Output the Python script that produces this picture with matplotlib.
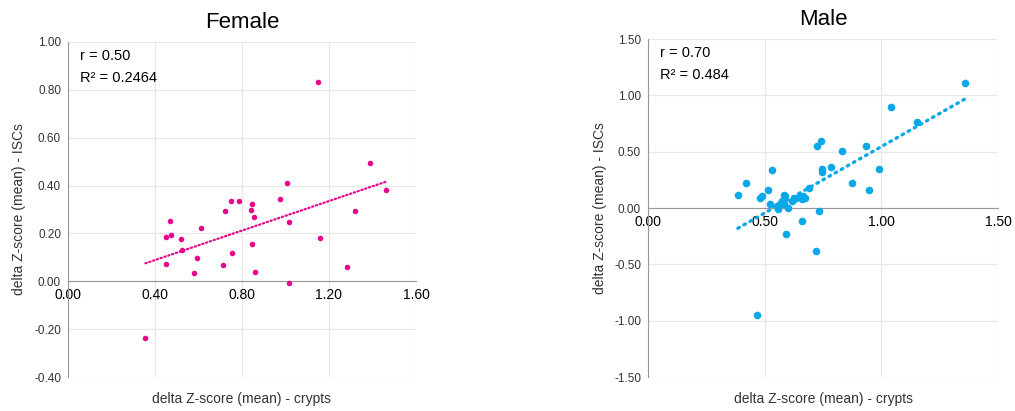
import numpy as np
import matplotlib
matplotlib.use("Agg")
import matplotlib.pyplot as plt

plt.rcParams['font.family'] = ['Liberation Sans', 'DejaVu Sans']

# ---- data ----
female_x = [1.151, 1.390, 1.461, 1.008, 0.976, 1.318, 1.018, 1.160, 1.281, 1.018,
            0.748, 0.785, 0.844, 0.840, 0.855, 0.722, 0.844, 0.754, 0.713, 0.861,
            0.611, 0.467, 0.452, 0.474, 0.520, 0.524, 0.595, 0.579, 0.452, 0.356]
female_y = [0.833, 0.496, 0.381, 0.412, 0.344, 0.293, 0.247, 0.182, 0.061, -0.007,
            0.335, 0.335, 0.321, 0.297, 0.269, 0.293, 0.156, 0.118, 0.067, 0.039,
            0.224, 0.251, 0.186, 0.192, 0.176, 0.132, 0.099, 0.035, 0.071, -0.238]

male_x = [1.359, 1.043, 1.151, 0.741, 0.726, 0.933, 0.830, 0.533, 0.785, 0.745,
          0.746, 0.990, 0.419, 0.875, 0.946, 0.514, 0.385, 0.489, 0.481, 0.581,
          0.588, 0.692, 0.664, 0.650, 0.674, 0.662, 0.635, 0.624, 0.617, 0.521,
          0.574, 0.564, 0.553, 0.581, 0.558, 0.598, 0.732, 0.662, 0.591, 0.721,
          0.469]
male_y = [1.112, 0.896, 0.766, 0.595, 0.550, 0.550, 0.506, 0.334, 0.364, 0.349,
          0.320, 0.349, 0.219, 0.219, 0.163, 0.163, 0.118, 0.104, 0.089, 0.118,
          0.104, 0.178, 0.107, 0.107, 0.092, 0.077, 0.092, 0.077, 0.062, 0.033,
          0.062, 0.033, 0.018, 0.033, -0.012, 0.003, -0.027, -0.112, -0.228, -0.385,
          -0.947]

female_xticks = [0.00, 0.40, 0.80, 1.20, 1.60]
female_yticks = [-0.40, -0.20, 0.00, 0.20, 0.40, 0.60, 0.80, 1.00]
male_xticks = [0.00, 0.50, 1.00, 1.50]
male_yticks = [-1.50, -1.00, -0.50, 0.00, 0.50, 1.00, 1.50]

female_stats = ["r = 0.50", "R\u00b2 = 0.2464"]
male_stats = ["r = 0.70", "R\u00b2 = 0.484"]

FEMALE_C = '#e8078b'
MALE_C = '#0aa8e8'

fig = plt.figure(figsize=(10.15, 4.11), dpi=100)
ax1 = fig.add_axes([68/1015, 1-377/411, 348/1015, 335/411])
ax2 = fig.add_axes([648/1015, 1-377/411, 350/1015, 338/411])


def style(ax, xt, yt, title, stats, ylabelpad):
    ax.set_xlim(xt[0], xt[-1])
    ax.set_ylim(yt[0], yt[-1])
    ax.set_xticks(xt)
    ax.set_yticks(yt)
    ax.set_xticklabels([f"{v:.2f}" for v in xt], fontsize=8.5, color='#333333')
    ax.set_yticklabels([f"{v:.2f}" for v in yt], fontsize=8.5, color='#333333')
    ax.tick_params(length=0, pad=5)
    ax.grid(True, color='#e8e8e8', linewidth=0.9)
    ax.set_axisbelow(True)
    for s in ['top', 'right']:
        ax.spines[s].set_visible(False)
    ax.spines['bottom'].set_position(('data', 0))
    ax.spines['bottom'].set_color('#999999')
    ax.spines['left'].set_color('#999999')
    ax.set_title(title, fontsize=16, pad=10)
    ax.set_xlabel("delta Z-score (mean) - crypts", fontsize=10, color='#333333')
    ax.xaxis.set_label_coords(0.5, -0.045)
    ax.set_ylabel("delta Z-score (mean) - ISCs", fontsize=10, color='#333333', labelpad=ylabelpad)
    ax.text(0.035, 0.978, stats[0], transform=ax.transAxes, fontsize=10.5, va='top')
    ax.text(0.035, 0.913, stats[1], transform=ax.transAxes, fontsize=10.5, va='top')


def trend(ax, x, y, color, lw, dash):
    x = np.asarray(x)
    y = np.asarray(y)
    m, b = np.polyfit(x, y, 1)
    xs = np.array([x.min(), x.max()])
    ax.plot(xs, m * xs + b, color=color, linewidth=lw, linestyle=(0, dash),
            dash_capstyle='round', zorder=2)


ax1.scatter(female_x, female_y, s=16, color=FEMALE_C, zorder=3, linewidths=0)
trend(ax1, female_x, female_y, FEMALE_C, 1.6, (0.6, 1.2))
style(ax1, female_xticks, female_yticks, "Female", female_stats, 6)

ax2.scatter(male_x, male_y, s=30, color=MALE_C, zorder=3, linewidths=0)
trend(ax2, male_x, male_y, MALE_C, 2.4, (0.5, 1.6))
style(ax2, male_xticks, male_yticks, "Male", male_stats, 5)

fig.savefig("out.png", dpi=100)
